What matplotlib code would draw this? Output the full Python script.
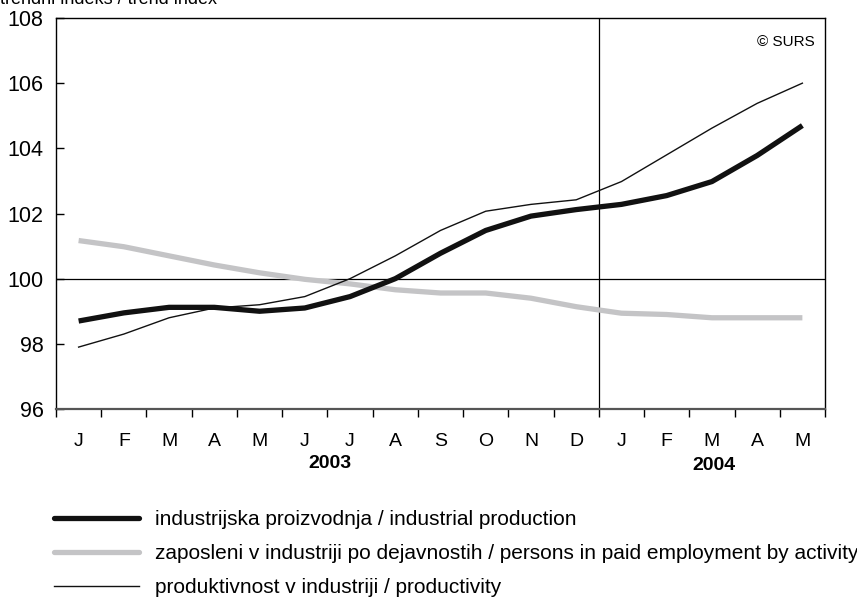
import matplotlib
matplotlib.use("Agg")
import matplotlib.pyplot as plt
import numpy as np

plt.rcParams['font.family'] = ['Liberation Sans', 'DejaVu Sans']

months = ["J", "F", "M", "A", "M", "J", "J", "A", "S", "O", "N", "D", "J", "F", "M", "A", "M"]
years = ["2003", "2004"]
production = [98.70, 98.95, 99.12, 99.12, 99.00, 99.10, 99.45, 100.00, 100.78, 101.48, 101.92, 102.12, 102.28, 102.55, 102.98, 103.78, 104.70]
employment = [101.17, 100.98, 100.70, 100.42, 100.18, 99.98, 99.84, 99.66, 99.56, 99.56, 99.40, 99.14, 98.94, 98.90, 98.80, 98.80, 98.80]
productivity = [97.90, 98.30, 98.80, 99.10, 99.20, 99.45, 100.00, 100.70, 101.48, 102.07, 102.28, 102.42, 102.98, 103.80, 104.62, 105.38, 106.00]
labels = ["industrijska proizvodnja / industrial production",
          "zaposleni v industriji po dejavnostih / persons in paid employment by activity",
          "produktivnost v industriji / productivity"]

fig = plt.figure(figsize=(8.57, 6.0), dpi=100)
ax = fig.add_axes([56/857, 1-409/600, (825-56)/857, (409-18)/600])

x = np.arange(len(months)) + 0.5
l1, = ax.plot(x, production, color='#111111', lw=3.8, solid_capstyle='butt', zorder=4)
l2, = ax.plot(x, employment, color='#c4c4c6', lw=3.8, solid_capstyle='butt', zorder=3)
l3, = ax.plot(x, productivity, color='#111111', lw=1.0, zorder=5)

ax.axhline(100, color='black', lw=0.9, zorder=2)
ax.axvline(12, color='black', lw=0.9, zorder=2)

ax.set_xlim(0, len(months))
ax.set_ylim(96, 108)
ax.set_yticks(np.arange(96, 109, 2))
ax.tick_params(axis='y', direction='in', length=6, width=1, labelsize=15.5, pad=9)

ax.set_xticks(np.arange(0, len(months) + 1))
ax.set_xticklabels([])
ax.set_xticks(x, minor=True)
ax.set_xticklabels(months, minor=True)
ax.tick_params(axis='x', which='major', direction='out', length=6, width=1, color='black')
ax.tick_params(axis='x', which='minor', length=0, labelsize=14, pad=17)

for s in ['top', 'right', 'left']:
    ax.spines[s].set_linewidth(1.0)
    ax.spines[s].set_color('black')
ax.spines['bottom'].set_linewidth(1.6)
ax.spines['bottom'].set_color('#555555')

ax.text(6.05, -(463-409)/391, years[0], transform=ax.get_xaxis_transform(), ha='center', va='center',
        fontsize=14, fontweight='bold')
ax.text(14.55, -(466-409)/391, years[1], transform=ax.get_xaxis_transform(), ha='center', va='center',
        fontsize=14, fontweight='bold')

ax.text(0.987, (409-42)/391, "© SURS", transform=ax.transAxes, ha='right', va='center', fontsize=11)

fig.text(0.0, 1 - 4/600, "trendni indeks / trend index", ha='left', va='baseline', fontsize=13)

leg = fig.legend([l1, l2, l3], labels, loc='upper left', bbox_to_anchor=(54/857, 1 - 510/600),
                 frameon=False, fontsize=15, handlelength=4.1, handletextpad=0.75,
                 labelspacing=0.72, borderpad=0, borderaxespad=0)
for h in leg.legend_handles[:2]:
    h.set_solid_capstyle('round')

fig.savefig("out.png", dpi=100)
